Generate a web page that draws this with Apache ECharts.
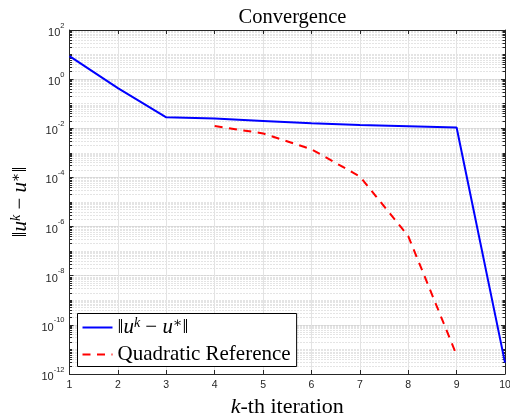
<!DOCTYPE html>
<html>
<head>
<meta charset="utf-8">
<script src="https://cdn.jsdelivr.net/npm/echarts@6/dist/echarts.min.js"></script>
<style>html,body{margin:0;padding:0;background:#fff}#c{width:510px;height:418px}</style>
</head>
<body>
<div id="c"></div>
<script>
const iters = [1, 2, 3, 4, 5, 6, 7, 8, 9, 10];
const errNorm = [8.7, 0.43, 0.028, 0.025, 0.020, 0.016, 0.0135, 0.012, 0.0107, 2.9e-12];
const quadIters = [4, 5, 6, 7, 8, 9];
const quadRef = [0.0123, 0.0062, 0.0014, 1.1e-4, 4.1e-7, 5.9e-12];
const xTicks = [1, 2, 3, 4, 5, 6, 7, 8, 9, 10];
const yMin = 1e-12, yMax = 1e2;

const serif = '"Liberation Serif", "DejaVu Serif", serif';
const sans = '"Liberation Sans", Arial, sans-serif';
const axisCol = '#262626';

function yLabel(v) {
  const e = Math.round(Math.log10(v));
  return '{b|10}{s|' + e + '}';
}
const yRich = {
  b: { fontSize: 11, fontFamily: sans, color: axisCol, lineHeight: 17, verticalAlign: 'bottom' },
  s: { fontSize: 7.5, fontFamily: sans, color: axisCol, lineHeight: 17, verticalAlign: 'top' }
};
function normRich(fs, sfs) {
  return {
    n: { fontSize: fs, fontFamily: serif, color: '#000' },
    i: { fontSize: fs, fontFamily: serif, fontStyle: 'italic', color: '#000' },
    sup: { fontSize: sfs, fontFamily: serif, fontStyle: 'italic', color: '#000', verticalAlign: 'top' }
  };
}
const normText = '{n|‖}{i|u}{sup|k}{n| − }{i|u}{sup|∗}{n|‖}';

const chart = echarts.init(document.getElementById('c'), null, { renderer: 'canvas' });

const xBase = {
  type: 'value', min: 1, max: 10, interval: 1,
  axisLine: { show: true, lineStyle: { color: axisCol, width: 1 } },
  axisTick: { show: true, inside: true, length: 4, lineStyle: { color: axisCol } },
  splitLine: { show: false }
};
const yBase = {
  type: 'log', logBase: 10, min: yMin, max: yMax,
  axisLine: { show: true, lineStyle: { color: axisCol, width: 1 } }
};

const legendRich = normRich(21, 14);
legendRich.q = { fontSize: 21, fontFamily: serif, color: '#000' };

chart.setOption({
  animation: false,
  backgroundColor: '#fff',
  title: {
    text: 'Convergence', left: 287.5, top: 2, textAlign: 'center',
    textStyle: { fontFamily: serif, fontSize: 20.5, fontWeight: 'normal', color: '#000' }
  },
  grid: { left: 69.5, right: 5, top: 30, bottom: 44, containLabel: false, outerBoundsMode: 'none' },
  xAxis: [
    Object.assign({}, xBase, {
      position: 'bottom',
      axisLabel: { show: true, fontFamily: sans, fontSize: 10.5, color: axisCol, margin: 6 },
      splitLine: { show: true, lineStyle: { color: '#e3e3e3', width: 1 } },
      name: '{i|k}{n|-th iteration}', nameLocation: 'middle', nameGap: 19,
      nameTextStyle: { rich: {
        i: { fontSize: 22, fontFamily: serif, fontStyle: 'italic', color: '#000' },
        n: { fontSize: 22, fontFamily: serif, color: '#000' } } }
    }),
    Object.assign({}, xBase, { position: 'top', axisLabel: { show: false } })
  ],
  yAxis: [
    Object.assign({}, yBase, {
      position: 'left', interval: 2,
      axisLabel: { show: true, formatter: yLabel, rich: yRich, margin: 5 },
      axisTick: { show: true, inside: true, length: 4, lineStyle: { color: axisCol } },
      splitLine: { show: true, lineStyle: { color: '#e3e3e3', width: 1 } },
      name: normText, nameLocation: 'middle', nameGap: 27, nameRotate: 90,
      nameTextStyle: { rich: normRich(21, 14) }
    }),
    Object.assign({}, yBase, {
      position: 'left', interval: 1,
      axisLine: { show: false },
      axisLabel: { show: false },
      axisTick: { show: true, inside: true, length: 2.5, lineStyle: { color: axisCol } },
      minorTick: { show: true, splitNumber: 9, length: 2.5, lineStyle: { color: axisCol } },
      splitLine: { show: true, lineStyle: { color: '#c8c8c8', width: 1, type: [1, 2] } },
      minorSplitLine: { show: true, lineStyle: { color: '#c8c8c8', width: 1, type: [1, 2] } }
    }),
    Object.assign({}, yBase, {
      position: 'right', interval: 2,
      axisLabel: { show: false },
      axisTick: { show: true, inside: true, length: 4, lineStyle: { color: axisCol } },
      splitLine: { show: false }
    }),
    Object.assign({}, yBase, {
      position: 'right', interval: 1,
      axisLine: { show: false },
      axisLabel: { show: false },
      axisTick: { show: true, inside: true, length: 2.5, lineStyle: { color: axisCol } },
      minorTick: { show: true, splitNumber: 9, length: 2.5, lineStyle: { color: axisCol } },
      splitLine: { show: false }
    })
  ],
  legend: {
    orient: 'vertical', left: 77.5, top: 313.5,
    backgroundColor: '#fff', borderColor: '#000', borderWidth: 1,
    padding: [3, 6, 1, 4], itemGap: 5, itemWidth: 30, itemHeight: 14,
    itemStyle: { opacity: 0 },
    data: ['norm', 'Quadratic Reference'],
    formatter: function (name) { return name === 'norm' ? normText : '{q|' + name + '}'; },
    textStyle: { rich: legendRich, fontFamily: serif, fontSize: 21, lineHeight: 22, color: '#000' }
  },
  series: [
    {
      name: 'norm', type: 'line', xAxisIndex: 0, yAxisIndex: 0,
      data: iters.map((x, i) => [x, errNorm[i]]),
      symbol: 'none', lineStyle: { color: '#0000ff', width: 2 }, itemStyle: { color: '#0000ff' }, z: 5
    },
    {
      name: 'Quadratic Reference', type: 'line', xAxisIndex: 0, yAxisIndex: 0,
      data: quadIters.map((x, i) => [x, quadRef[i]]),
      symbol: 'none', lineStyle: { color: '#ff0000', width: 2, type: [8, 6.5] }, itemStyle: { color: '#ff0000' }, z: 4
    }
  ]
});
</script>
</body>
</html>
